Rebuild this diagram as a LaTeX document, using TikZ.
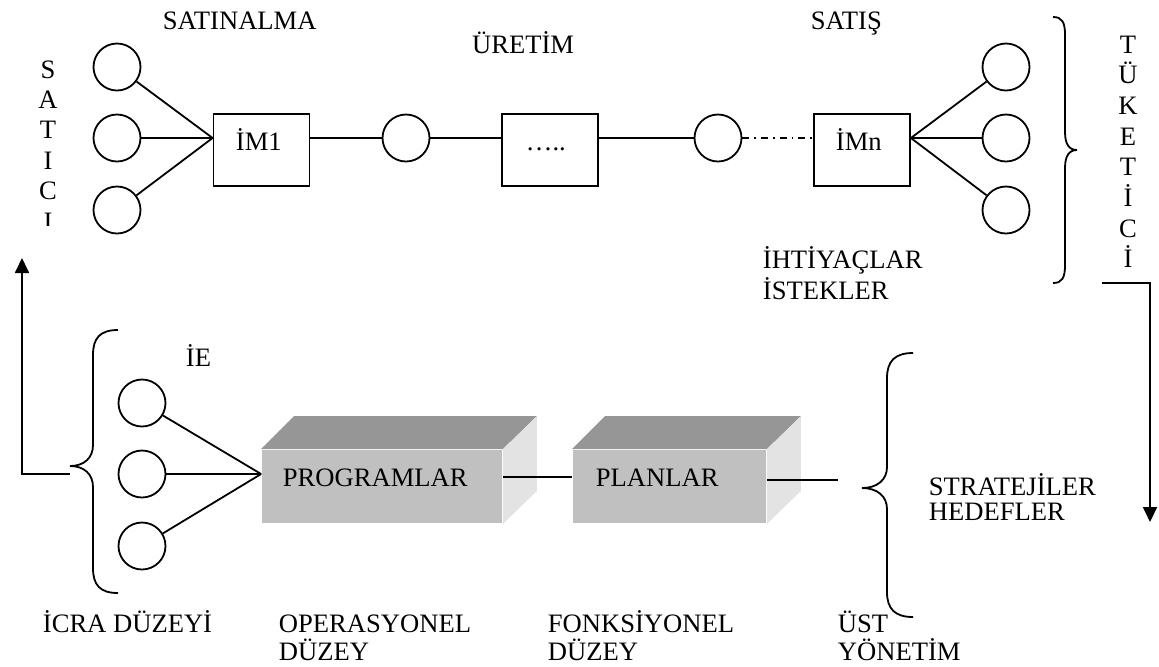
\documentclass[tikz,border=0pt]{standalone}
\usepackage{fontspec}
\setmainfont{Liberation Serif}
\usetikzlibrary{arrows.meta}
\definecolor{facefront}{RGB}{192,192,192}
\definecolor{facetop}{RGB}{150,150,150}
\definecolor{faceside}{RGB}{227,227,227}
\begin{document}
\begin{tikzpicture}[x=0.5pt,y=-0.5pt,line width=0.9pt,
  txt/.style={anchor=base west,inner sep=0pt,font=\fontsize{13.3}{16}\selectfont},
  ctxt/.style={anchor=base,inner sep=0pt,font=\fontsize{13.3}{16}\selectfont},
  unit/.style={draw,circle,minimum size=23.5pt,inner sep=0pt},
  stage/.style={draw,rectangle,minimum width=48pt,minimum height=36pt,inner sep=0pt},
  block/.style={fill=facefront,rectangle,inner sep=0pt,minimum height=36.5pt,minimum width=#1},
  flow/.style={-{Triangle[length=7.5pt,width=7pt]}},
  dashdot/.style={dash pattern=on 3.5pt off 2.5pt on 0.8pt off 2.5pt}
]
\fill[white] (0,0) rectangle (1159,666);
\useasboundingbox (0,0) rectangle (1159,666);

% ---------- supply chain row ----------
\node[unit] (s1) at (117,67) {};
\node[unit] (s2) at (117,138) {};
\node[unit] (s3) at (117,210) {};
\node[stage] (im1) at (261.5,150) {};
\node[unit] (c1) at (406,138) {};
\node[stage] (dots) at (550,150) {};
\node[unit] (c2) at (718,138) {};
\node[stage] (imn) at (862,150) {};
\node[unit] (t1) at (1006,67) {};
\node[unit] (t2) at (1006,138) {};
\node[unit] (t3) at (1006,210) {};

\draw (s1) -- (im1.west |- s2.center);
\draw (s2) -- (im1.west |- s2.center);
\draw (s3) -- (im1.west |- s2.center);
\draw (im1.east |- c1.center) -- (c1);
\draw (c1) -- (dots.west |- c1.center);
\draw (dots.east |- c2.center) -- (c2);
\draw[dashdot] (c2) -- (imn.west |- c2.center);
\draw (imn.east |- t2.center) -- (t1);
\draw (imn.east |- t2.center) -- (t2);
\draw (imn.east |- t2.center) -- (t3);

\node[txt] (lsat) at (162,29) {SATINALMA};
\node[txt,anchor=base east] (luret) at (575,53) {ÜRETİM};
\node[txt] (lsatis) at (810,29) {SATIŞ};
\node[txt] (lim1) at (235,150) {İM1};
\node[txt] (ldots) at (525,150) {…..};
\node[txt] (limn) at (835,150) {İMn};
\node[txt] (lihti) at (762,268) {İHTİYAÇLAR};
\node[txt] (list) at (762,299) {İSTEKLER};

% vertical words
\begin{scope}
  \clip (0,0) rectangle (200,225);
  \foreach \ch [count=\i] in {S,A,T,I,C,I}
    \node[ctxt] (sat\i) at (48,{78+30.4*(\i-1)}) {\ch};
\end{scope}
\foreach \ch [count=\i] in {T,Ü,K,E,T,İ,C,İ}
  \node[ctxt] (tuk\i) at (1128,{53+30.7*(\i-1)}) {\ch};

% braces
\draw (1053,17) .. controls (1062,17) and (1065,22) .. (1065,35) -- (1065,132)
  .. controls (1065,144) and (1069,150) .. (1077,150)
  .. controls (1069,150) and (1065,156) .. (1065,168) -- (1065,265)
  .. controls (1065,278) and (1062,283) .. (1053,283);
\draw (118,330) .. controls (100,330) and (93,338) .. (93,355) -- (93,445)
  .. controls (93,458) and (84,466) .. (70,466)
  .. controls (84,466) and (93,474) .. (93,487) -- (93,568)
  .. controls (93,585) and (100,593) .. (118,593);
\draw (913,353) .. controls (895,353) and (887,361) .. (887,378) -- (887,467)
  .. controls (887,480) and (877,488) .. (862,488)
  .. controls (877,488) and (887,496) .. (887,509) -- (887,592)
  .. controls (887,609) and (895,617) .. (913,617);

% feedback arrows
\coordinate (icraout) at (70,474);
\coordinate (upend) at (22,258);
\draw[flow] (icraout) -| (upend);
\coordinate (tukout) at (1102,283);
\coordinate (downend) at (1150,522);
\draw[flow] (tukout) -| (downend);

% ---------- management levels ----------
\node[unit] (e1) at (142,403) {};
\node[unit] (e2) at (142,474) {};
\node[unit] (e3) at (142,546) {};

\node[block=120pt] (prog) at (382,486.5) {};
\fill[facetop] (prog.north west) -- ([shift={(33,-33)}]prog.north west)
  -- ([shift={(34,-33)}]prog.north east) -- (prog.north east) -- cycle;
\fill[faceside] (prog.north east) -- ([shift={(34,-33)}]prog.north east)
  -- ([shift={(34,-33)}]prog.south east) -- (prog.south east) -- cycle;

\node[block=96.5pt] (plan) at (669.5,486.5) {};
\fill[facetop] (plan.north west) -- ([shift={(33,-33)}]plan.north west)
  -- ([shift={(34,-33)}]plan.north east) -- (plan.north east) -- cycle;
\fill[faceside] (plan.north east) -- ([shift={(34,-33)}]plan.north east)
  -- ([shift={(34,-33)}]plan.south east) -- (plan.south east) -- cycle;

\draw (e1) -- (prog.west |- e2.center);
\draw (e2) -- (prog.west |- e2.center);
\draw (e3) -- (prog.west |- e2.center);
\draw ([yshift=4.75pt]prog.east) -- ([yshift=4.75pt]plan.west);
\coordinate (planout) at (838,480);
\draw ([yshift=3.25pt]plan.east) -- (planout);

\node[txt] (lie) at (185,366) {İE};
\node[txt] (lprog) at (282,486) {PROGRAMLAR};
\node[txt] (lplan) at (595,486) {PLANLAR};
\node[txt] (lstr) at (928,495) {STRATEJİLER};
\node[txt] (lhed) at (928,520) {HEDEFLER};
\node[txt] (licra) at (42,632) {İCRA DÜZEYİ};
\node[txt] (lop1) at (278,632) {OPERASYONEL};
\node[txt] (lop2) at (278,660) {DÜZEY};
\node[txt] (lfo1) at (547,632) {FONKSİYONEL};
\node[txt] (lfo2) at (547,660) {DÜZEY};
\node[txt] (lust1) at (837,632) {ÜST};
\node[txt] (lust2) at (837,660) {YÖNETİM};
\end{tikzpicture}
\end{document}
